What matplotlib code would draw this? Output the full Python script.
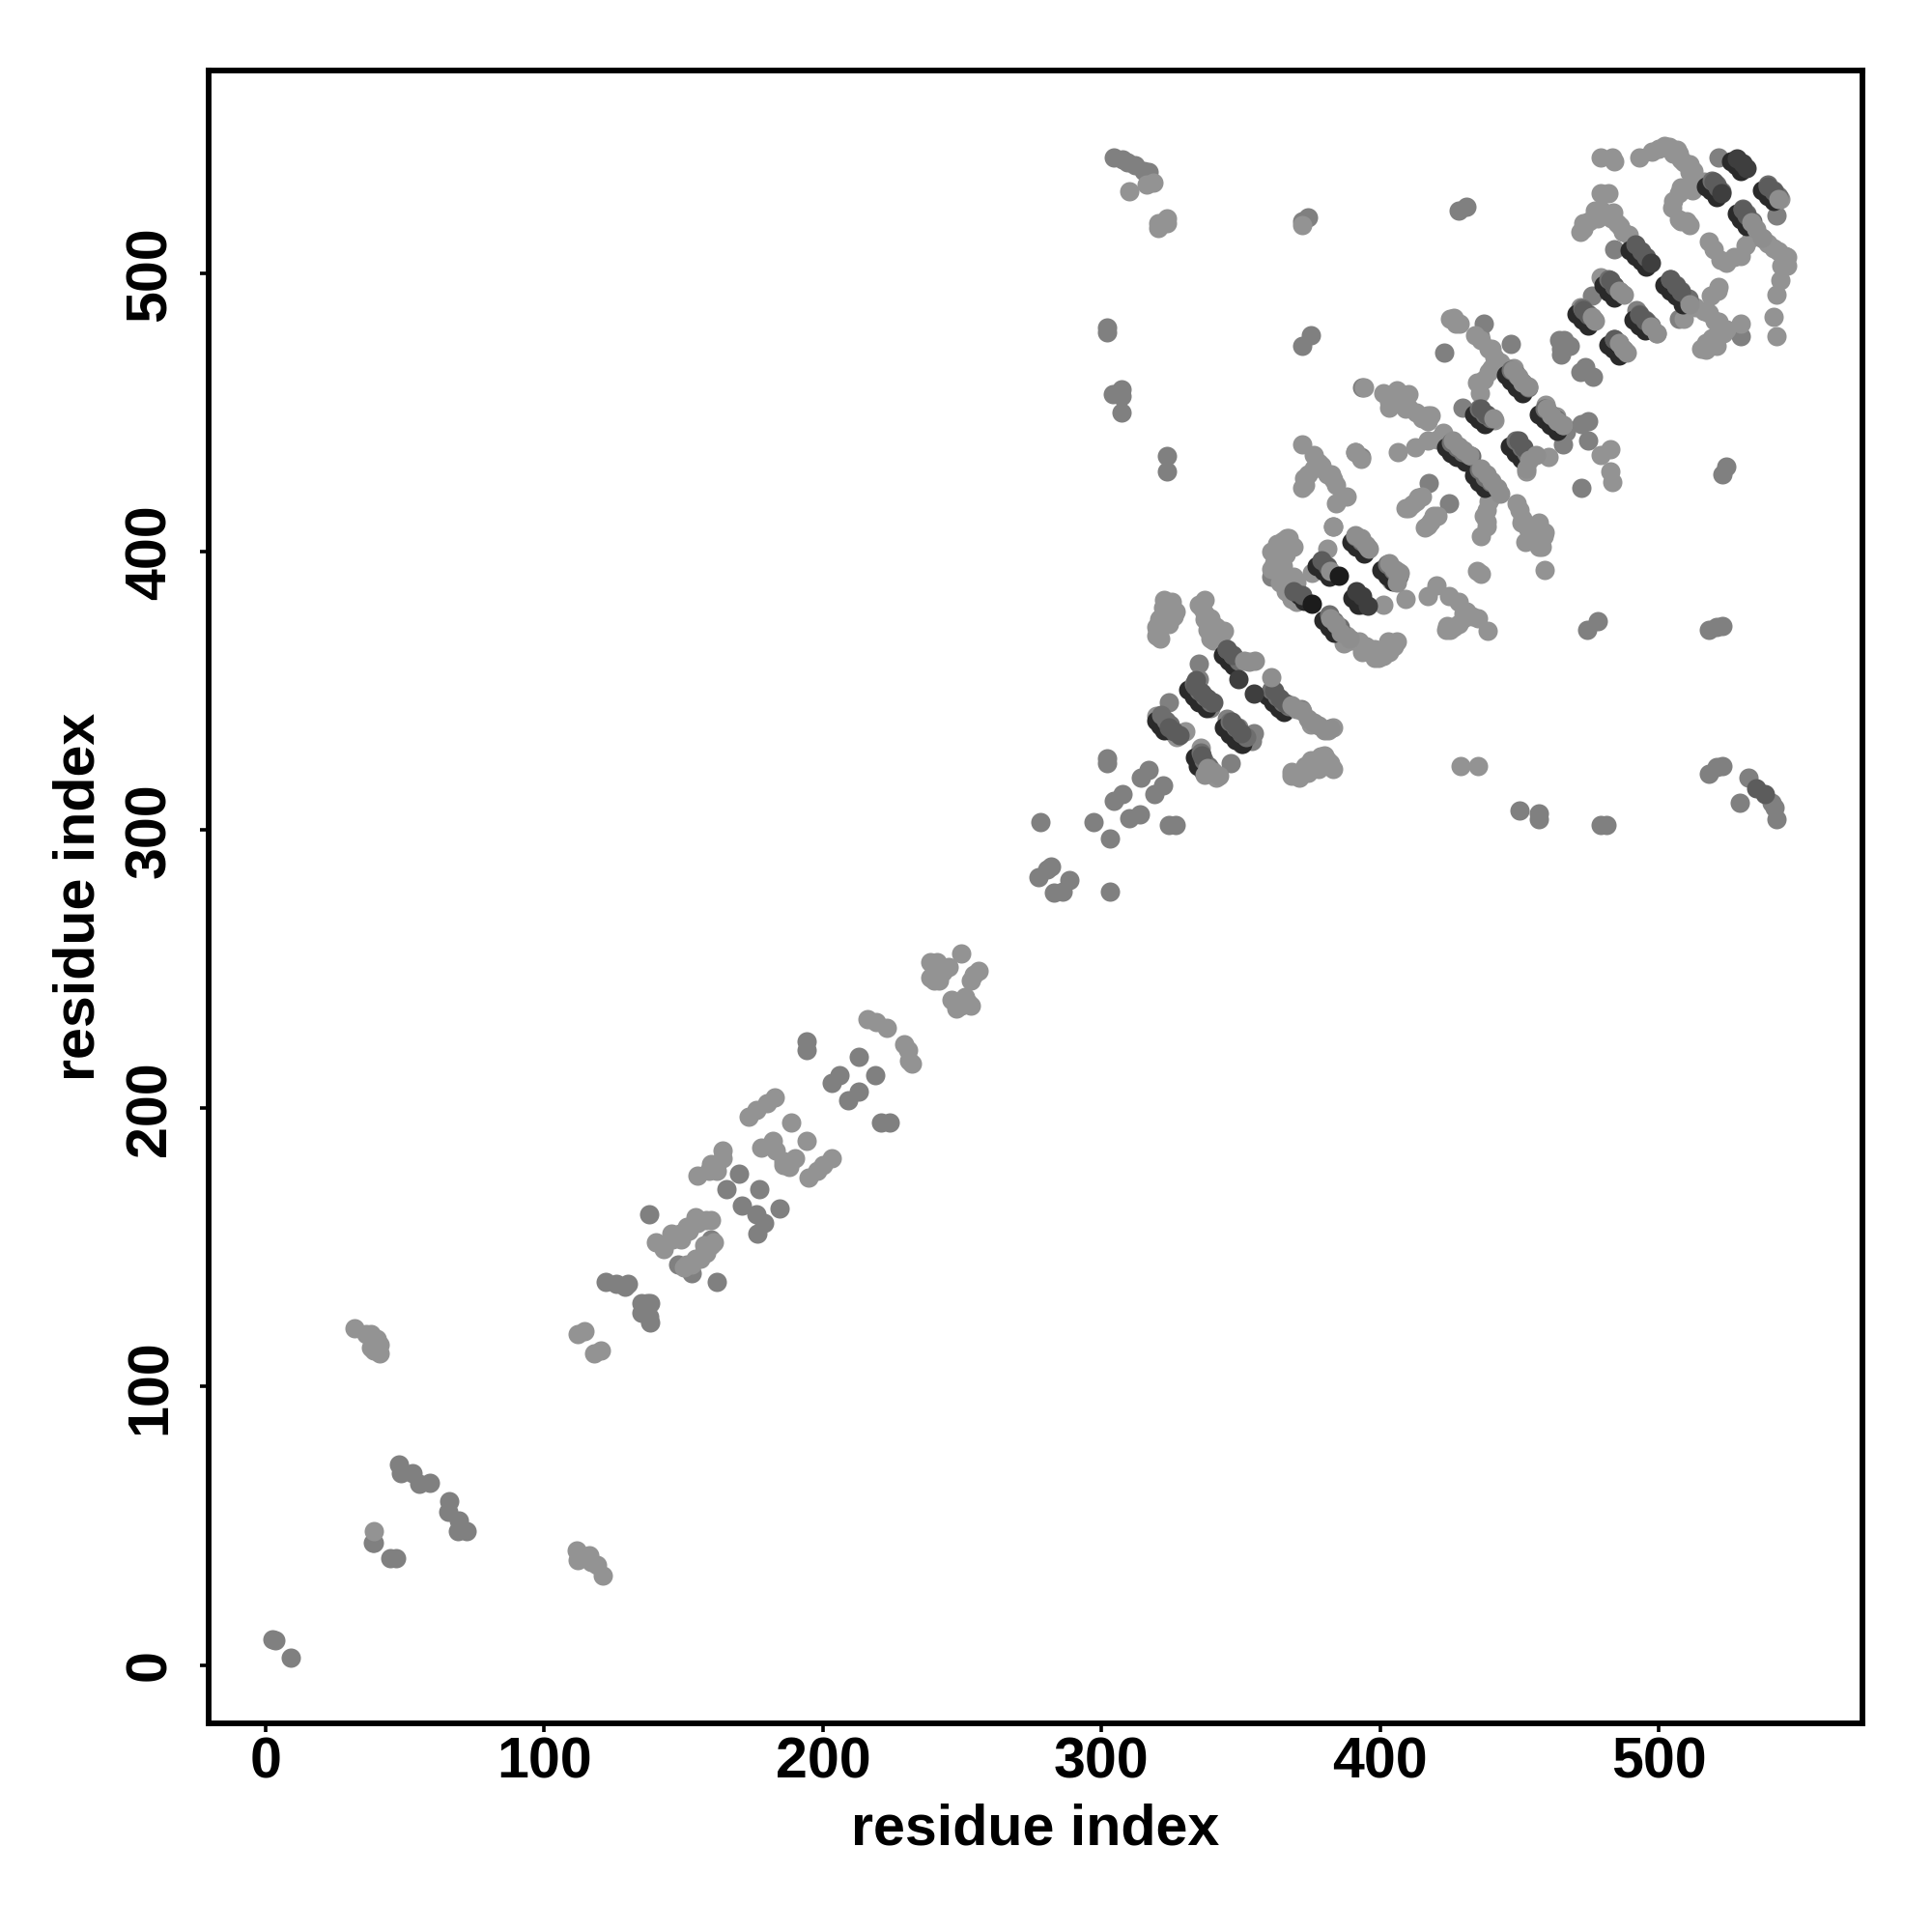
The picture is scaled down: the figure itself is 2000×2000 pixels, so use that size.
import matplotlib
matplotlib.use("Agg")
import matplotlib.pyplot as plt

plt.rcParams['font.family'] = ['Liberation Sans', 'DejaVu Sans']
plt.rcParams['font.weight'] = 'bold'

tick_values = [0, 100, 200, 300, 400, 500]
axis_label = "residue index"

# medium grey contacts: (residue i, residue j)
mid_pts = [(2.6,9.3),(3.5,9),(9,2.7),(39,44),(38.5,44),(44.7,38.5),(47,38.5),(48,72),(48.6,69),(52.6,69),(55,65),(59,65.5),
 (66,59),(65.5,55),(69.5,52),(69,48),(72,48),
 (122,137.6),(125.7,137),(129,136),(130,137),(135,130),(138,130),(135,126.5),(138,123),(137.6,125),(137,130),(136,128),(137.6,162),
 (148,144),(151,143),(153,140.7),(157.5,148),(160,153),(162,137.6),
 (165.5,171),(170,176.5),(171,165),(177,171),(176,162),(176.5,155),(179,159),(184.5,164),(194,224),(194,221),
 (203,209),(206,212),(213,218.6),(209,203),(213,206),(218.6,212),(221,195),(224,195),
 (278,303),(277.4,283),(280.5,286),(282,287),(288.5,282),(283,277.5),(286,278),(297,303),(303,297),(303,278),
 (302,325.7),(302,324),(304.4,310.6),(307.5,313),(314,319),(317,321.7),(319,313),(322,316),(310,304.4),(313.7,305.8),(324,302),(326.5,302),
 (302,480.5),(302,479),(304,456.6),(307,458.4),(307,456),(307,450),(323.5,434.5),(323.5,428.8),
 (304.4,541.6),(307.5,541),(309.3,540),(312,539),(315,537),(317,536.5),
 (372,519),(374,520.4),(428,522.6),(431,524),(372,474),(375,478),(393.4,459),(391,436),(393,434),
 (324,346),(335,360),(335,354.4),(346.3,324),(339,344),(345,340),(349,337),(354.8,334.7),(354,332),(350,331),
 (361,348),(367,344),(371.5,343.4),(361,391),(364,391.4),(367.5,385),(372,384),
 (450,307),(457,306),(457,304),(479,302),(481,302),(518,320.4),(520.5,322.6),(522.6,323),(529,310),(532,319),
 (540.3,310),(541.6,308),(542,304),(518,372),(520.5,373),(522.6,373.5),(474.3,372),(478,375),(522.6,428),(524,430.5),
 (423,471.7),(437.3,482),(447,474.6),(435.6,477.4),(429.4,452),(472,446),(474.5,447),(466.5,443.3),(465.6,438.7),(474.5,440),(472,423),
 (464,476.3),(466.5,474.6),(464.7,471),(473.6,466.5),(476.3,463),(471.8,464.7),(465,473),(466,476),(468,474),
 (521.4,541.8),(542.3,520.8),(529.4,477.4),(492,487),(495.7,482.7),(507,483.8),(484,508.7),(491.3,510.4),(476,492),
 (417.5,424.6),(424.6,417.6),(393,381),(383,409)]

# light grey contacts
light_pts = [(32,121),(36,119),(38,119),(40,117),(41,115),(38,114),(39,113),(41,112),(39,48),
 (111.5,41),(112,37.6),(116,39.4),(117,37),(119,36),(121,32),(112,119),(114.6,120),(118,112),(120.4,113),
 (140,152),(143,149.5),(145.6,155),(148.7,155),(151,157.5),(154.4,161),(157.5,151),(154.4,146),(151,144),
 (146,153),(149,153),(152,156),(155,159),(158,160),(160,160),(150,143),(153,144),(156,146),(158,148),(160,151),(161,152),
 (155,176),(160,180),(159,177.5),(164,185),(164,182),(162,177.5),
 (173.5,197),(176,199.6),(180,202),(182.7,204),(178,186),(182,188.5),(183,185),(188.5,195),(194,188.5),(186,179.6),(190,182),(188,179),(186,181),
 (195,175),(198,177.5),(200,179.6),(203,182),(216,232),(219,231),(223,229),(229,223),(230.5,221),(231,217),(232,216),
 (238.5,252.7),(241,252.7),(238.5,247),(241.6,246),(245,251),(249.6,255.8),(256,249.6),(253,246),(246,239),(249.6,237),(253,237),
 (240,249),(243,249),(240,252),(240,246),(248,236),(251,240),(252,238),(254,248),
 (310,529.6),(316,532),(318.6,532.7),(320.4,518),(323.4,520),(320.4,516.5),(323.4,518),(372,517.5),
 (479,541.6),(483.3,541.6),(484,540.5),(493,541.6),(497.5,544),(503.7,545.7),(506.3,544.5),(507,543),(510.8,539.3),(512.5,537),
 (500,545),(502,546),(505,543),(508,541),(509,540),(511,536.5),(513,534),(514,532),
 (516,533),(507,529),(510.8,532),(504.6,523.7),(507,519.6),(510.8,517.3),(479,529),(482,529),(508,519),(510,519),(505,526),(512,530),(508,531),
 (532,518.5),(537.3,512.7),(541,509),(545.3,506.4),(545.3,504),(543.5,497.7),(542.3,492.5),(541,484.4),(542.3,477.4),(541.7,529),(543.5,527),
 (535,514),(539,511),(543,508),(546,506),(544,503),(546,503),(522,505),(527,506),(531,510),(533,513),
 (471.8,515),(472.7,518),(477,522.5),(479.5,522.5),(483.7,522),(486,517),(517.8,511.6),(519.6,508.7),(524,504),(529.4,506.4),
 (473,516),(475,519),(478,520),(481,521),(483,520),(485,518),(487,515),(489,514),
 (479,498.8),(481.6,497.7),(483.4,494.8),(486,493),(518.7,492),(521.4,495.4),(521,494),
 (471.8,488),(499.3,478.6),(509,483.8),(516,486.7),(521.4,482.7),(523,478.6),
 (529.4,482),(517,472.8),(520.5,474),(487,471.7),
 (513,488),(518,486),(520,483),(522,481),(524,480),(519,477),(517,475),(515,473),(520,476),
 (425,483.8),(428.5,482),(427,482),(426.5,484),(440,473),(439,464.7),(448,466),(451.5,460),(434.7,460.7),(435.6,457),(441,447.4),(459.4,453),(463,448.6),
 (434,478),(436,476),(439,473),(441,470),(443,468),(445,466),(440,466),(437,462),
 (479,434.7),(482.5,437),(482.5,429),(483.4,425),(450.6,437),(460.3,434),(452.4,429),
 (394,459),(401,457),(406,458),(410,456.6),(403,452),(409,451.4),(417,449),(417,447),(406.4,436),(412.5,437.6),(417,440),(420.5,440.5),(422.4,442.8),(426,439),
 (404,456),(407,454),(410,452),(413,450),(415,448),(418,449),(403,454),
 (372,438.7),(376,435),(379,431),(372.7,426.6),(372,423),(382.5,428),(384,424),(388,420),(384,417.3),(391,436),(393,433.5),
 (373,424),(374,428),(376,430),(378,432),(381,428),(383,426),
 (413.4,419.7),(410,415.6),(409,415.6),(420.5,413),(419,413),(416,408.7),(411.5,417),(413,418),(415,420),(418,411),(417,409.5),
 (441,422),(438,415),(438,409),(436,405.8),(449,417.3),(450.6,410.4),(456.8,410.4),(458.6,405.8),(456.8,401.7),(459,393.6),(452,403.5),(434.7,393),(436,392),
 (439,418),(440,420),(437,413),(438,411),(450,415),(451,412),(453,408),(455,406),(457,408),(457,404),(459,407),(458,402),
 (367,405),(362,399),(361,394),(364.6,391.4),(368.7,391),(381,401),(375.6,392.5),(383,409),(393,405),(395,401),(390,404),(401,381),(409,383),(402,395),(406,393),(404,389.6),
 (365,395),(366,399),(369,402),(368,388),(366,386),(368,383),(370,382),(364,389),(361,400),(363,403),(365,404),(367,402),(362,396),(364,393),(366,388),(368,386),(370,389),(364,403),
 (388,367.7),(392.4,367.7),(393.5,364),(399.3,362),(400,364),(402.8,367.7),(406,367.7),
 (388,370),(390,368),(395,366),(398,365),(401,362.5),(403,364),(405,366),(398,362),(387,367),
 (420,388),(417,384),(424.7,384),(428,382),(423.6,372),(426.4,373),(430,378),(435,376.3),(438.6,371.7),
 (424,373.5),(425,372),(428,374),(430,376),(431,378.5),(433,377),
 (319.5,370),(319.5,373),(320.7,375.8),(323,379),(322.4,382.7),(325.3,382),(326.5,378.7),
 (320,372),(321,376),(322,380),(324,380),(326,377),(324,374),(321,369),
 (337,382.7),(335,381),(337,375.8),(340.3,373.4),(343.8,371.7),(339,369),(336,380),(337,378),(339,376),(341,373),(341,371),(343,370),(338,372),(340,368),
 (319.5,341),(323,338),(326,334.7),(330,335.7),(327,333.6),(335.7,329.5),(334.5,326),(339,322),(341,319),
 (378.5,326.6),(382,324),(383,322),(375,325),(372,321.4),(368,319.7),(371,319),
 (368,321),(370,320),(373,323),(376,323),(379,326),(380,327),(381,325),(378,322),(374,320.5),
 (428.8,323),(435,323),(375,338),(381.4,336),(383,337),(363,399),(366.5,405)]

# darkest crescents at the lower left of each dense band
under_pts = [(526,540.5),(527.5,539),(529.5,537),(517,531.5),(518.5,530),(520.5,527.5),(537,530),(539,528),(541,526),
 (528,521.5),(529.5,519.5),(531.5,517),(489.5,508.5),(491.5,506.5),(493.5,504.5),(495.5,502.5),(502,496),(504,494),(506,492),(508.5,489),
 (480,496),(482,493.5),(484,491.5),(470.5,485.5),(472.5,483.5),(474.5,481.5),(491,483.5),(493,481.5),(495,479.5),(482,474.5),(483.5,473),(485.5,470.5),
 (445,463.5),(447,461.5),(449,459),(451,457),(457,449.5),(459,447.5),(461,445.5),(463.5,443.5),(433.5,449.5),(435.5,447.5),(437.5,446),
 (446.5,438),(448.5,435.5),(450.5,433.5),(423.5,437.5),(425.5,435.5),(427.5,434),(430.5,432.5),(433.5,427.5),(435.5,425),(437.5,423),
 (389.5,403.5),(391.5,402),(394,399.5),(400.5,393.5),(402.5,391.5),(404.5,389.5),(377,395),(379.5,393),(381.5,391),(371,384.5),(372.5,382.5),
 (390,383.5),(392,381),(379.5,375.5),(381.5,373),(383.5,371),(343.5,363),(345.5,361),(347.5,359),
 (359.5,348.5),(361.5,346),(363.5,344),(365.5,342.5),(331,350.5),(333,348),(335,346),(337.5,344),
 (344,337),(346,334.5),(348,332.5),(350.5,331),(319.5,339.5),(321,337.5),(322.5,336),(333.5,326),(334.5,323),(336.5,321)]

# grey body of the bands, covering most of each crescent
band_mid_pts = [(519,533.5),(520.5,532),(522.5,529.5),(539,532),(541,530),(543,528),(530,523.5),(531.5,521.5),(533.5,519),
 (504,498),(506,496),(508,494),(510.5,491),(482,498),(484,495.5),(486,493.5),(472.5,487.5),(474.5,485.5),(476.5,483.5),
 (493,485.5),(495,483.5),(497,481.5),(484,476.5),(485.5,475),(487.5,472.5),(447,465.5),(449,463.5),(451,461),(453,459),
 (459,451.5),(461,449.5),(463,447.5),(465.5,445.5),(435.5,451.5),(437.5,449.5),(439.5,448),(448.5,440),(450.5,437.5),(452.5,435.5),
 (425.5,439.5),(427.5,437.5),(429.5,436),(432.5,434.5),(435.5,429.5),(437.5,427),(439.5,425),(391,405.5),(393,404),(395.5,401.5),
 (402.5,395.5),(404.5,393.5),(406.5,391.5),(381.5,377.5),(383.5,375),(385.5,373),(345,365),(347,363),(349,361),
 (361,350.5),(363,348),(365,346),(367,344.5),(333,352.5),(335,350),(337,348),(339,346),(346,339),(348,337),(350,335),(352,333.5),
 (321.5,341.5),(323,339.5),(324.5,338),(335.5,328),(336.5,325),(338.5,323)]

# dark grey cover of the bands
band_dark_pts = [(519.5,533),(521,531),(539,531.5),(541,529.5),(530,523),(531.5,521),(491.5,510.5),(493.5,508),(495.5,506),
 (504,498),(506,495.5),(508,493.5),(482.5,497.5),(484,495.5),(473,487),(474.5,485),(493,485),(495,483),(484,476.5),
 (436,451.5),(438,449.5),(449.5,440),(451.5,437.5),(379,397),(381,395),(369,386),(372,384.5),
 (345,365),(347,363),(362,350),(364,347.5),(366,345.5),(334,354),(333.5,352),(336,349.5),(338,347.5),(340,346),
 (346.5,339),(348.5,337),(350,335),(324,337),(326,335.5),(328,334),(336,327),(535,315),(538,313)]

# lighter cover of the bands
band_light_pts = [(543,527),(533,518.5),(535,516),(537,513),(511,489),(485.5,494),(487.5,492.5),(476,484.5),(477,483),(497,481),(499,478.5),
 (485.5,475),(487,473),(488.5,471.5),(447.5,465.5),(449.5,463),(451,461),(453,459.5),(459.5,451.5),(461.5,449),(463.5,447),(465.5,445.5),
 (440.5,448),(453.5,433),(452.5,430),(456,435),(426,440),(428,438),(430,436.5),(432,435),(436,430),(438,428),(440,425.5),(442,423),(443,421),
 (391,406),(393,404.5),(395,402.5),(396,401),(403,396),(405,394),(407,392.5),(406,389),(382,393),(382,376),(384,374),(386,371),(389,369),
 (351,361),(353,360.5),(355,361),(361,355),(368,345),(370,343.5),(372,343),(374,340),(376,338.5),(378,337.5),(380,336),(382,336.5),
 (338,322.5),(340,321),(342,319.5),(337,320)]

# near-black contacts on top
top_pts = [(528,541.5),(530,539.5),(531.5,538),(522.5,529),(497,504),(349,354.3),(354.7,349),(391.5,386),(393.5,384),(395.5,380.5)]
black_pts = [(385,391.4),(375.6,381.5)]

groups = [(mid_pts, '#808080'), (light_pts, '#939393'), (under_pts, '#2a2a2a'), (band_mid_pts, '#6e6e6e'),
          (band_dark_pts, '#5c5c5c'), (band_light_pts, '#8e8e8e'),
          (top_pts, '#3e3e3e'), (black_pts, '#1c1c1c')]

fig = plt.figure(figsize=(10, 10), dpi=200)
ax = fig.add_axes([216/2000, 1-1784/2000, (1928-216)/2000, (1784-73)/2000])
for pts, grey in groups:
    xs, ys = zip(*pts)
    ax.scatter(xs, ys, s=52, c=grey, linewidths=0, zorder=3)

ax.set_xlim(-20.4, 573)
ax.set_ylim(-21, 573)
ax.set_xticks(tick_values)
ax.set_yticks(tick_values)
ax.tick_params(axis='x', length=3.2, width=1.3, labelsize=21.3, pad=1.5)
ax.tick_params(axis='y', length=3.2, width=1.3, labelsize=21.3, pad=8.5)
for t in ax.get_yticklabels():
    t.set_rotation(90)
    t.set_va('center')
for s in ax.spines.values():
    s.set_linewidth(2.1)
ax.set_xlabel(axis_label, fontsize=21.3, fontweight='bold', labelpad=5.3)
ax.set_ylabel(axis_label, fontsize=21.3, fontweight='bold', labelpad=7)
fig.savefig("out.png", dpi=200)
